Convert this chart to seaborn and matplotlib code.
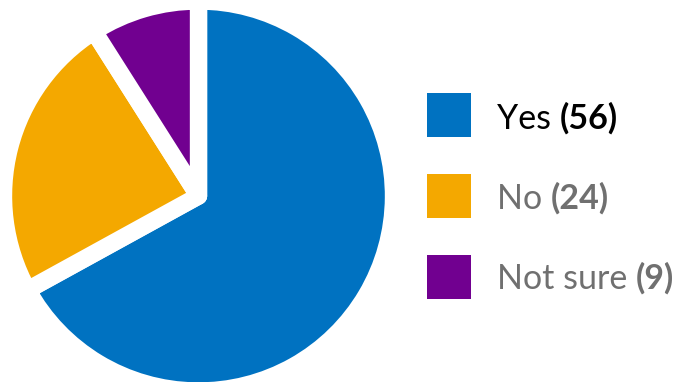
import matplotlib
matplotlib.use("Agg")
import matplotlib.pyplot as plt
import seaborn as sns
from matplotlib.patches import Rectangle

labels = ["Yes", "No", "Not sure"]
label_counts = [56, 24, 9]          # numbers printed in the legend
slice_values = [67, 24, 9]          # slice sizes as drawn in the picture
colors = ["#0072C1", "#F4A800", "#710090"]
text_colors = ["#000000", "#707070", "#707070"]

sns.set_style("white")
plt.rcParams['font.family'] = ['Lato', 'DejaVu Sans']

W, H = 682, 382
fig = plt.figure(figsize=(W / 100, H / 100), dpi=100)

R = 195
cx, cy = 198.5, 196
ax = fig.add_axes([(cx - R) / W, (H - cy - R) / H, 2 * R / W, 2 * R / H])
ax.pie(slice_values, colors=colors, startangle=90, counterclock=False, radius=1,
       wedgeprops=dict(edgecolor="white", linewidth=12.5, joinstyle="round"))
ax.set_xlim(-1, 1)
ax.set_ylim(-1, 1)
ax.set_aspect("equal")
ax.axis("off")

renderer = fig.canvas.get_renderer()
sq = 44
for i, (lab, val, col, tc) in enumerate(zip(labels, label_counts, colors, text_colors)):
    top = 93 + i * 81
    fig.patches.append(Rectangle((427 / W, 1 - (top + sq) / H), sq / W, sq / H,
                                 transform=fig.transFigure, facecolor=col,
                                 edgecolor="none"))
    base = 129 + i * 80
    t1 = fig.text(497 / W, 1 - base / H, lab + " ", fontsize=24.5, color=tc,
                  va="baseline", ha="left")
    bb = t1.get_window_extent(renderer)
    fig.text(bb.x1 / W, 1 - base / H, f"({val})", fontsize=24.5, color=tc,
             fontweight="bold", va="baseline", ha="left")

fig.savefig("out.png", dpi=100)
